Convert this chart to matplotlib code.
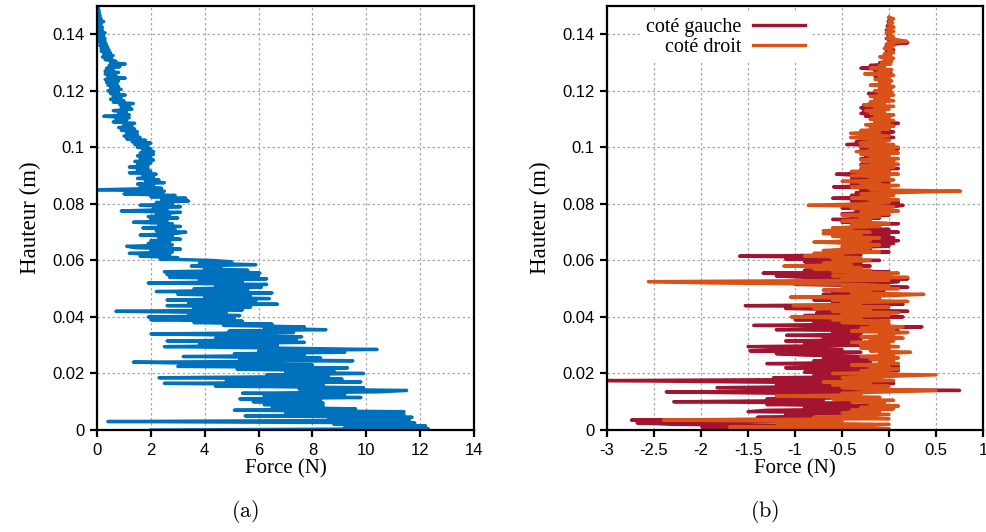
import matplotlib
matplotlib.use('Agg')
import numpy as np
import matplotlib.pyplot as plt
from matplotlib.ticker import FormatStrFormatter

# heights of the sampled points, in mm (same sampling for both panels)
hauteur_mm = [
    0, 0.5, 1, 1.5, 2, 2.5, 3, 3.5, 4, 4.5,
    5, 5.5, 6, 6.5, 7, 7.5, 8, 8.5, 9, 9.5,
    10, 10.5, 11, 11.5, 12, 12.5, 13, 13.5, 14, 14.5,
    15, 15.5, 16, 16.5, 17, 17.5, 18, 18.5, 19, 19.5,
    20, 20.5, 21, 21.5, 22, 22.5, 23, 23.5, 24, 24.5,
    25, 25.5, 26, 26.5, 27, 27.5, 28, 28.5, 29, 29.5,
    30, 30.5, 31, 31.5, 32, 32.5, 33, 33.5, 34, 34.5,
    35, 35.5, 36, 36.5, 37, 37.5, 38, 38.5, 39, 39.5,
    40, 40.5, 41, 41.5, 42, 42.5, 43, 43.5, 44, 44.5,
    45, 45.5, 46, 46.5, 47, 47.5, 48, 48.5, 49, 49.5,
    50, 50.5, 51, 51.5, 52, 52.5, 53, 53.5, 54, 54.5,
    55, 55.5, 56, 56.5, 57, 57.5, 58, 58.5, 59, 59.5,
    60, 60.5, 61, 61.5, 62, 62.5, 63, 63.5, 64, 64.5,
    65, 65.5, 66, 66.5, 67, 67.5, 68, 68.5, 69, 69.5,
    70, 70.5, 71, 71.5, 72, 72.5, 73, 73.5, 74, 74.5,
    75, 75.5, 76, 76.5, 77, 77.5, 78, 78.5, 79, 79.5,
    80, 80.5, 81, 81.5, 82, 82.5, 83, 83.5, 84, 84.5,
    85, 85.5, 86, 86.5, 87, 87.5, 88, 88.5, 89, 89.5,
    90, 90.5, 91, 91.5, 92, 92.5, 93, 93.5, 94, 94.5,
    95, 95.5, 96, 96.5, 97, 97.5, 98, 98.5, 99, 99.5,
    100, 100.5, 101, 101.5, 102, 102.5, 103, 103.5, 104, 104.5,
    105, 105.5, 106, 106.5, 107, 107.5, 108, 108.5, 109, 109.5,
    110, 110.5, 111, 111.5, 112, 112.5, 113, 113.5, 114, 114.5,
    115, 115.5, 116, 116.5, 117, 117.5, 118, 118.5, 119, 119.5,
    120, 120.5, 121, 121.5, 122, 122.5, 123, 123.5, 124, 124.5,
    125, 125.5, 126, 126.5, 127, 127.5, 128, 128.5, 129, 129.5,
    130, 130.5, 131, 131.5, 132, 132.5, 133, 133.5, 134, 134.5,
    135, 135.5, 136, 136.5, 137, 137.5, 138, 138.5, 139, 139.5,
    140, 140.5, 141, 141.5, 142, 142.5, 143, 143.5, 144, 144.5,
    145, 145.5, 146, 146.5, 147, 147.5, 148, 148.5, 149, 149.5,
    150,
]

# (a) total force (N)
force_a = [
    2.0, 12.3, 9.2, 12.2, 8.8, 11.8, 0.4, 11.6, 8.6, 11.7,
    5.5, 11.4, 7.0, 11.4, 5.1, 9.6, 6.5, 8.4, 6.2, 8.4,
    5.8, 8.3, 5.3, 9.8, 6.2, 9.2, 5.4, 10.5, 11.5, 7.5,
    9.9, 4.4, 8.4, 2.5, 9.8, 4.8, 9.1, 2.3, 8.6, 6.3,
    9.9, 7.0, 8.8, 5.2, 9.3, 3.0, 8.0, 4.3, 1.35, 9.5,
    5.3, 8.3, 3.2, 7.7, 5.1, 9.2, 6.0, 10.4, 6.6, 2.5,
    6.7, 3.8, 7.7, 2.6, 7.4, 4.4, 7.6, 5.5, 2.0, 7.3,
    4.9, 8.5, 6.2, 7.7, 4.7, 6.5, 3.6, 5.4, 2.0, 5.1,
    1.9, 5.3, 3.4, 4.8, 0.7, 5.4, 3.6, 5.7, 2.6, 6.7,
    3.4, 5.9, 2.6, 6.4, 4.0, 5.7, 3.0, 6.5, 2.2, 5.6,
    3.6, 6.1, 4.4, 6.3, 1.9, 5.4, 3.8, 6.3, 2.7, 6.0,
    2.6, 6.05, 2.5, 5.6, 4.0, 4.6, 3.5, 5.9, 3.8, 5.0,
    4.3, 2.35, 3.0, 1.6, 2.7, 1.2, 2.8, 2.0, 3.1, 1.4,
    1.1, 2.8, 1.9, 2.7, 2.0, 3.1, 2.3, 2.8, 1.6, 2.9,
    3.3, 2.2, 2.9, 1.7, 3.1, 2.3, 2.8, 1.35, 2.6, 2.0,
    3.0, 1.9, 2.7, 2.2, 3.1, 0.9, 2.6, 2.1, 3.1, 1.6,
    2.8, 2.2, 3.4, 2.4, 3.3, 2.0, 2.9, 1.0, 2.4, 2.5,
    0.0, 2.4, 1.6, 2.1, 1.5, 2.5, 1.8, 2.3, 1.5, 2.1,
    1.7, 2.2, 1.2, 2.0, 1.5, 1.9, 1.2, 1.9, 1.5, 2.0,
    1.4, 2.1, 1.6, 2.0, 1.5, 2.1, 1.6, 2.1, 1.7, 2.0,
    1.5, 1.9, 1.4, 2.0, 1.3, 1.8, 1.1, 1.6, 1.0, 1.5,
    1.1, 1.5, 0.9, 1.4, 0.8, 1.3, 1.0, 1.4, 0.6, 1.1,
    0.7, 1.2, 0.25, 1.2, 0.8, 1.1, 0.6, 1.3, 0.9, 1.2,
    0.85, 1.35, 0.6, 1.0, 0.5, 0.9, 0.6, 1.05, 0.5, 0.8,
    0.4, 0.9, 0.5, 0.8, 0.4, 0.75, 0.35, 0.8, 0.3, 1.05,
    0.4, 0.7, 0.3, 0.8, 0.3, 0.6, 0.35, 0.85, 0.45, 1.05,
    0.5, 0.7, 0.3, 0.55, 0.2, 0.6, 0.25, 0.5, 0.15, 0.45,
    0.15, 0.4, 0.1, 0.35, 0.1, 0.3, 0.05, 0.3, 0.05, 0.25,
    0.05, 0.3, 0.0, 0.2, 0.05, 0.2, 0.05, 0.15, 0.05, 0.25,
    0.05, 0.15, 0.0, 0.12, 0.0, 0.1, 0.0, 0.08, 0.0, 0.05,
    0.0,
]

# (b) force on each side (N)
force_gauche = [
    -1.3, -0.75, -1.99, -0.9, -2.3, -2.68, -1.2, -2.74, -0.5, -1.4,
    -0.8, -1.1, -0.3, -1.5, -1.3, 0.0, -0.9, -0.2, -1.3, -0.4,
    -2.29, -0.7, -1.3, -0.1, -1.1, -0.35, -1.2, -2.37, 0.75, -0.9,
    -1.83, -0.4, -1.2, 0.05, -1.6, -3.0, -0.1, -1.23, 0.05, -0.8,
    -0.1, -0.9, 0.1, -0.6, -1.1, 0.1, -0.5, -1.3, -0.2, -0.8,
    0.0, -0.7, -0.2, -0.9, -1.2, -0.3, -1.48, -0.5, -1.0, -1.5,
    -0.2, -0.9, -0.4, -1.1, -0.3, -0.7, -0.2, -1.09, -0.3, -0.6,
    0.1, -1.2, -0.2, 0.35, -1.44, -0.3, -0.8, -0.1, -1.0, -0.3,
    0.15, -0.9, -0.2, -0.77, 0.2, -0.4, -1.1, -0.2, -1.53, 0.15,
    -0.6, -0.2, -0.8, -0.1, -0.91, -0.3, -0.7, -0.1, -0.6, -0.05,
    -0.4, 0.2, -0.2, -1.0, -0.1, 0.1, -0.5, 0.2, -0.9, -1.2,
    -0.3, -1.34, 0.0, -0.9, -0.4, -0.8, -0.2, -0.6, -0.3, -0.9,
    -0.1, -1.1, -0.4, -1.59, -0.3, -0.7, 0.0, -0.6, -0.2, -0.5,
    0.0, -0.3, 0.05, -0.4, 0.1, -0.2, 0.05, -0.3, 0.0, -0.5,
    0.1, -0.3, 0.0, -0.6, -0.1, -0.3, 0.1, -0.5, -0.2, -0.6,
    -0.1, -0.4, 0.0, -0.5, -0.2, -0.35, -0.1, -0.5, 0.05, 0.15,
    -0.3, 0.1, -0.4, 0.05, -0.6, -0.1, -0.4, 0.0, -0.35, -0.05,
    -0.3, -0.1, -0.59, -0.2, -0.4, 0.0, -0.3, -0.1, -0.4, -0.2,
    -0.3, -0.56, -0.2, 0.0, -0.3, 0.1, -0.2, -0.1, -0.3, 0.0,
    -0.2, 0.05, -0.3, -0.1, -0.25, 0.0, -0.2, 0.05, -0.3, 0.1,
    -0.3, 0.0, -0.45, -0.2, -0.35, 0.0, -0.2, 0.05, -0.15, 0.0,
    -0.1, 0.05, -0.2, 0.0, -0.15, 0.05, -0.1, 0.1, -0.15, -0.05,
    -0.2, 0.0, -0.25, -0.1, -0.3, -0.15, -0.27, -0.1, -0.3, -0.05,
    -0.27, -0.1, -0.2, 0.0, -0.15, -0.05, -0.1, 0.0, -0.22, -0.05,
    -0.15, 0.0, -0.1, 0.05, -0.12, 0.0, -0.08, 0.02, -0.1, 0.0,
    -0.15, -0.05, -0.1, 0.02, -0.15, -0.05, -0.3, -0.1, -0.2, 0.0,
    -0.1, 0.02, -0.05, 0.0, -0.08, 0.0, -0.05, 0.02, -0.03, 0.05,
    -0.05, 0.0, -0.03, 0.05, 0.2, 0.0, 0.02, -0.03, 0.0, 0.02,
    -0.02, 0.0, 0.02, -0.03, 0.0, 0.05, -0.02, 0.0, 0.03, -0.01,
    0.0, 0.02, 0.0,
]

force_droit = [
    -0.2, 0.0, -1.7, -0.3, 0.0, -1.2, -0.5, -2.4, 0.0, -0.8,
    -0.3, 0.0, -0.5, -0.1, -0.4, 0.05, -0.3, 0.1, -0.2, -0.05,
    -0.4, 0.05, -0.6, -0.1, -1.2, -0.3, -0.5, 0.0, 0.5, -0.3,
    -0.5, 0.0, -0.6, -0.2, -0.7, 0.05, -0.3, -0.5, 0.0, 0.5,
    -0.6, 0.0, -0.3, 0.1, -0.2, 0.0, -0.4, 0.1, -0.1, 0.05,
    -0.2, 0.1, -0.3, 0.05, -0.1, 0.23, -0.2, 0.0, -0.3, 0.1,
    -0.3, 0.0, -0.4, 0.05, -0.2, 0.15, -0.3, 0.05, -0.1, 0.2,
    -0.4, 0.05, -0.3, 0.15, -0.2, 0.0, -0.5, 0.0, -0.6, -0.3,
    -1.04, 0.0, -0.5, 0.1, -0.6, -0.2, -0.8, 0.0, -1.02, -0.3,
    -0.5, 0.2, -0.6, -0.1, -1.05, 0.0, 0.37, -0.4, -0.2, -0.7,
    0.1, -0.5, 0.0, -0.3, -1.87, -2.56, 0.0, -0.5, 0.2, -0.6,
    -0.1, 0.1, -0.6, -0.2, -0.8, -0.3, -1.12, -0.4, -0.7, -0.5,
    -0.2, -0.6, -0.3, -0.9, -0.5, -0.8, -0.1, -0.7, -0.4, -0.2,
    -0.5, -0.1, -0.4, -0.8, -0.2, -0.5, -0.1, -0.6, -0.3, -0.7,
    -0.2, -0.7, -0.4, -0.6, -0.1, -0.4, 0.0, -0.3, -0.5, -0.2,
    -0.3, -0.1, -0.5, 0.0, -0.3, 0.1, -0.2, -0.4, 0.05, -0.86,
    -0.3, 0.0, -0.2, 0.1, -0.4, -0.1, 0.05, -0.3, 0.1, 0.76,
    -0.2, 0.0, -0.4, 0.1, -0.3, -0.1, -0.5, 0.05, -0.2, 0.0,
    -0.4, 0.1, -0.2, -0.4, 0.0, -0.3, 0.05, -0.3, 0.1, -0.2,
    0.05, -0.3, 0.1, -0.2, 0.0, -0.3, 0.1, -0.35, 0.05, -0.2,
    0.1, -0.3, 0.05, -0.31, -0.1, 0.0, -0.25, -0.41, 0.0, -0.2,
    -0.41, -0.1, -0.3, 0.0, -0.2, 0.05, -0.25, 0.0, -0.15, 0.05,
    -0.2, 0.0, -0.15, 0.05, -0.2, -0.05, -0.25, 0.0, -0.15, 0.05,
    -0.26, -0.05, -0.2, 0.05, -0.15, 0.0, -0.2, 0.05, -0.1, 0.03,
    -0.15, 0.02, -0.1, 0.05, -0.2, 0.0, -0.1, 0.03, -0.15, 0.0,
    -0.1, 0.05, -0.26, 0.0, -0.1, 0.03, -0.2, -0.05, -0.1, 0.02,
    -0.08, 0.03, -0.05, 0.05, -0.1, 0.02, -0.05, 0.05, 0.0, 0.03,
    -0.05, 0.02, 0.05, -0.03, 0.0, 0.19, 0.1, -0.02, 0.05, 0.0,
    0.02, -0.03, 0.05, 0.0, -0.02, 0.05, 0.03, -0.01, 0.04, 0.0,
    0.02, 0.05, 0.0,
]

bleu = '#0072bd'
rouge = '#a2142f'
orange = '#d95319'

plt.rcParams['mathtext.fontset'] = 'cm'
plt.rcParams['axes.unicode_minus'] = False

tick_font = 'Liberation Sans'
label_font = 'Liberation Serif'


def style_axes(ax, xlim, xticks):
    ax.set_xlim(*xlim)
    ax.set_ylim(0, 0.15)
    ax.set_xticks(xticks)
    ax.set_yticks([0, 0.02, 0.04, 0.06, 0.08, 0.1, 0.12, 0.14])
    ax.xaxis.set_major_formatter(FormatStrFormatter('%g'))
    ax.yaxis.set_major_formatter(FormatStrFormatter('%g'))
    ax.grid(True, color='#a8a8a8', linestyle=(0, (2, 2)), linewidth=0.9)
    ax.set_axisbelow(True)
    for s in ax.spines.values():
        s.set_linewidth(1.6)
    ax.tick_params(direction='out', length=5, width=1.6, labelsize=12,
                   top=False, right=False, pad=4)
    for lab in ax.get_xticklabels() + ax.get_yticklabels():
        lab.set_fontfamily(tick_font)
    ax.set_xlabel('Force (N)', fontfamily=label_font, fontsize=15, labelpad=1)
    ax.set_ylabel('Hauteur (m)', fontfamily=label_font, fontsize=16.5, labelpad=8)


fig = plt.figure(figsize=(9.87, 5.32), dpi=100)
ax1 = fig.add_axes([0.0983, 0.1917, 0.382, 0.797])
ax2 = fig.add_axes([0.615, 0.1917, 0.381, 0.797])

h = np.array(hauteur_mm) / 1000.0
hb = h[:len(force_gauche)]

ax1.plot(force_a, h, color=bleu, linewidth=2.4)
style_axes(ax1, (0, 14), [0, 2, 4, 6, 8, 10, 12, 14])

ax2.plot(force_gauche, hb, color=rouge, linewidth=2.4, label='coté gauche')
ax2.plot(force_droit, hb, color=orange, linewidth=2.4, label='coté droit')
style_axes(ax2, (-3, 1), [-3, -2.5, -2, -1.5, -1, -0.5, 0, 0.5, 1])

leg = ax2.legend(loc='upper left', bbox_to_anchor=(0.06, 1.01), markerfirst=False,
                 frameon=True, fancybox=False, framealpha=1, edgecolor='none',
                 handlelength=2.6, handletextpad=0.6, labelspacing=0.05,
                 borderpad=0.3, prop={'family': label_font, 'size': 14.5})
for t in leg.get_texts():
    t.set_ha('right')

fig.text(0.248, 0.028, r'$\mathrm{(a)}$', ha='center', fontsize=16)
fig.text(0.775, 0.028, r'$\mathrm{(b)}$', ha='center', fontsize=16)

fig.savefig('out.png', dpi=100)
